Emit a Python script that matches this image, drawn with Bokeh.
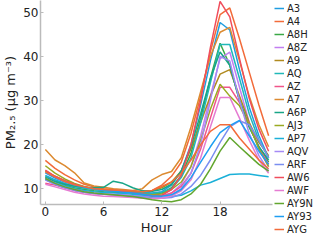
from bokeh.plotting import figure
from bokeh.models import Range1d, Legend, LegendItem, FixedTicker
from bokeh.embed import file_html
from bokeh.resources import INLINE

hours = list(range(24))
names = ["A3", "A4", "A8H", "A8Z", "A9", "AQ", "AZ", "A7", "A6P", "AJ3",
         "AP7", "AQV", "ARF", "AW6", "AWF", "AY9N", "AY93", "AYG"]
colors = ["#1f9de0", "#f26b3a", "#3aa845", "#c27ef0", "#b08a1e", "#20b8b8",
          "#f0558a", "#dc8a30", "#18a587", "#9aaa22", "#1bb0d8", "#a58af5",
          "#7a8ef0", "#f04d5c", "#e57cd2", "#62a62e", "#1e9ef2", "#f26b3a"]

A3 = [13.0, 12.0, 11.2, 10.6, 10.2, 9.9, 9.7, 9.6, 9.5, 9.4, 9.2, 9.0, 9.3, 10.8, 14.0, 20.0, 29.0, 39.0, 47.7, 46.0, 37.0, 28.5, 22.0, 17.0]
A4 = [16.4, 14.6, 13.2, 12.0, 11.0, 10.4, 10.0, 9.8, 9.6, 9.4, 9.3, 9.6, 10.8, 12.8, 16.0, 22.5, 31.0, 41.0, 49.5, 51.0, 44.0, 36.5, 29.0, 22.0]
A8H = [12.6, 11.6, 10.8, 10.2, 9.8, 9.5, 9.3, 9.2, 9.1, 9.0, 8.8, 8.7, 9.0, 10.2, 13.0, 18.0, 26.0, 35.0, 43.0, 38.0, 30.0, 24.0, 19.5, 16.0]
A8Z = [12.0, 11.0, 10.2, 9.6, 9.2, 8.9, 8.7, 8.6, 8.5, 8.4, 8.3, 8.2, 8.4, 9.0, 11.0, 15.0, 22.0, 31.0, 39.5, 41.0, 33.0, 25.0, 19.0, 15.0]
A9 = [14.0, 12.8, 11.8, 11.0, 10.4, 10.0, 9.8, 9.6, 9.5, 9.4, 9.3, 9.5, 10.2, 11.5, 14.0, 19.0, 25.0, 31.0, 36.0, 37.0, 31.0, 25.0, 20.5, 17.5]
AQ = [12.8, 11.8, 11.0, 10.5, 10.1, 9.8, 9.6, 9.4, 9.3, 9.2, 9.0, 8.9, 9.2, 10.0, 12.5, 17.0, 25.0, 34.0, 42.7, 42.7, 35.0, 27.0, 21.0, 17.0]
AZ = [11.2, 10.8, 10.2, 9.6, 9.2, 8.9, 8.7, 8.6, 8.5, 8.4, 8.2, 8.0, 8.2, 9.0, 10.5, 13.5, 19.0, 26.0, 33.0, 33.0, 29.5, 24.5, 19.5, 15.5]
A7 = [18.9, 16.5, 15.2, 13.6, 11.3, 10.6, 10.3, 10.0, 9.8, 9.6, 10.0, 12.0, 13.2, 13.9, 17.0, 24.0, 32.0, 40.0, 45.5, 46.6, 39.0, 31.0, 24.5, 19.5]
A6P = [12.5, 11.6, 11.0, 10.6, 10.3, 10.2, 10.3, 11.7, 11.2, 10.2, 9.5, 9.4, 9.8, 11.0, 14.0, 19.5, 27.0, 35.0, 41.0, 38.0, 30.0, 24.0, 19.5, 16.5]
AJ3 = [15.2, 13.5, 12.2, 11.2, 10.5, 10.0, 9.7, 9.5, 9.3, 9.1, 8.8, 8.6, 8.8, 9.8, 11.5, 15.0, 21.0, 28.0, 33.7, 31.0, 28.8, 24.5, 19.0, 15.0]
AP7 = [12.2, 11.3, 10.6, 10.0, 9.6, 9.3, 9.1, 9.0, 8.9, 8.7, 8.5, 8.3, 8.2, 8.2, 8.5, 9.5, 10.8, 11.4, 12.3, 13.2, 13.3, 13.3, 13.0, 12.7]
AQV = [12.4, 11.2, 10.4, 9.8, 9.3, 9.0, 8.8, 8.7, 8.6, 8.4, 8.2, 8.0, 8.1, 8.6, 10.0, 13.5, 20.0, 30.0, 40.0, 39.0, 30.0, 22.5, 17.5, 14.0]
ARF = [12.0, 11.0, 10.2, 9.6, 9.2, 8.9, 8.7, 8.6, 8.5, 8.3, 8.1, 7.9, 7.8, 8.0, 8.8, 10.5, 13.0, 16.5, 20.5, 24.0, 25.4, 24.5, 21.0, 17.0]
AW6 = [14.2, 12.8, 11.8, 11.0, 10.4, 10.0, 9.7, 9.5, 9.3, 9.1, 8.8, 8.4, 8.5, 9.8, 13.0, 20.0, 30.0, 42.0, 52.5, 49.0, 39.5, 30.5, 23.5, 18.5]
AWF = [11.0, 10.4, 9.8, 9.2, 8.8, 8.5, 8.3, 8.2, 8.1, 8.0, 7.8, 7.7, 7.8, 8.3, 9.5, 12.0, 17.0, 24.0, 30.7, 30.7, 26.0, 21.0, 16.5, 13.5]
AY9N = [12.3, 11.2, 10.4, 9.8, 9.3, 9.0, 8.8, 8.6, 8.4, 8.2, 7.9, 7.5, 7.2, 7.0, 7.5, 8.8, 11.0, 14.5, 18.5, 21.6, 19.5, 17.5, 15.5, 14.0]
AY93 = [13.6, 12.4, 11.5, 10.8, 10.3, 9.9, 9.6, 9.4, 9.2, 9.0, 8.7, 8.4, 8.3, 8.6, 9.8, 12.5, 16.0, 19.5, 22.7, 24.3, 25.5, 22.0, 18.5, 15.5]
AYG = [13.8, 12.6, 11.6, 10.9, 10.4, 10.0, 9.8, 9.7, 9.6, 9.5, 9.3, 9.6, 10.5, 11.5, 13.5, 16.5, 20.0, 23.0, 24.5, 24.5, 21.5, 19.0, 16.5, 14.5]

series = [A3, A4, A8H, A8Z, A9, AQ, AZ, A7, A6P, AJ3, AP7, AQV, ARF, AW6, AWF, AY9N, AY93, AYG]

x_ticks = [0, 6, 12, 18]
y_ticks = [10, 20, 30, 40, 50]

FONT = "DejaVu Sans"

p = figure(frame_width=232, frame_height=204, output_backend="svg", toolbar_location=None,
           x_range=Range1d(-0.5, 23.4), y_range=Range1d(6.4, 52.7),
           min_border_top=0, min_border_right=0, min_border_bottom=0, min_border_left=0)
p.outline_line_color = None
p.xgrid.grid_line_color = None
p.ygrid.grid_line_color = None
p.background_fill_color = "white"
p.border_fill_color = "white"

items = []
for name, col, ys in zip(names, colors, series):
    r = p.line(hours, ys, line_color=col, line_width=1.5)
    items.append(LegendItem(label=name, renderers=[r]))

for ax in (p.xaxis[0], p.yaxis[0]):
    ax.axis_line_color = "#bbbbbb"
    ax.axis_line_width = 1.5
    ax.major_tick_line_color = "#bbbbbb"
    ax.major_tick_in = 3
    ax.major_tick_out = 0
    ax.minor_tick_line_color = None
    ax.major_label_text_font = FONT
    ax.major_label_text_font_size = "12px"
    ax.major_label_text_color = "#222222"
    ax.axis_label_text_font = FONT
    ax.axis_label_text_font_size = "13px"
    ax.axis_label_text_font_style = "normal"
    ax.axis_label_text_color = "#222222"
    ax.major_label_standoff = 2

p.xaxis[0].ticker = FixedTicker(ticks=x_ticks)
p.yaxis[0].ticker = FixedTicker(ticks=y_ticks)
p.xaxis[0].axis_label = "Hour"
p.yaxis[0].axis_label = "PM\u2082.\u2085 (\u03bcg m\u207b\u00b3)"
p.xaxis[0].axis_label_standoff = 1
p.yaxis[0].axis_label_standoff = 2

legend = Legend(items=items, location="top_left")
legend.border_line_color = None
legend.background_fill_alpha = 0
legend.label_text_font = FONT
legend.label_text_font_size = "10px"
legend.label_text_color = "#222222"
legend.label_height = 12
legend.glyph_height = 12
legend.glyph_width = 10
legend.label_standoff = 3
legend.spacing = 1
legend.padding = 0
legend.margin = 2
p.add_layout(legend, "right")

open("out.html", "w").write(file_html(p, INLINE))
